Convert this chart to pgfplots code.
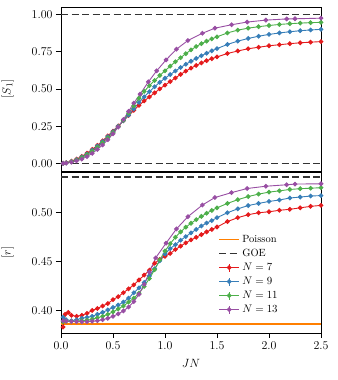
\documentclass[border=0pt]{standalone}
\usepackage{pgfplots}
\pgfplotsset{compat=1.18}
\usepackage{pgfplotstable}

\definecolor{cred}{HTML}{E41A1C}
\definecolor{cblue}{HTML}{377EB8}
\definecolor{cgreen}{HTML}{4DAF4A}
\definecolor{cpurple}{HTML}{984EA3}
\definecolor{poissoncol}{RGB}{255,127,0}

% top panel: [S_1]
\pgfplotstableread{
x y
0.02 0.002
0.05 0.006
0.10 0.016
0.15 0.030
0.20 0.048
0.25 0.070
0.30 0.095
0.35 0.122
0.40 0.152
0.45 0.185
0.50 0.218
0.55 0.252
0.60 0.287
0.65 0.322
0.70 0.357
0.75 0.390
0.80 0.420
0.85 0.447
0.90 0.474
0.95 0.501
1.00 0.526
1.05 0.550
1.10 0.574
1.15 0.598
1.20 0.620
1.25 0.640
1.30 0.658
1.35 0.675
1.40 0.690
1.45 0.703
1.50 0.715
1.60 0.738
1.70 0.755
1.80 0.770
1.90 0.780
2.00 0.790
2.10 0.797
2.20 0.804
2.30 0.810
2.40 0.814
2.50 0.818
}\sSeven
\pgfplotstableread{
x y
0.02 0.002
0.05 0.005
0.10 0.014
0.15 0.027
0.20 0.044
0.25 0.065
0.30 0.090
0.35 0.117
0.40 0.147
0.45 0.180
0.50 0.214
0.55 0.250
0.60 0.287
0.65 0.325
0.70 0.365
0.75 0.410
0.80 0.447
0.85 0.482
0.90 0.515
0.95 0.545
1.00 0.572
1.05 0.597
1.10 0.621
1.15 0.644
1.20 0.666
1.25 0.686
1.30 0.705
1.35 0.723
1.40 0.740
1.45 0.756
1.50 0.771
1.60 0.799
1.70 0.821
1.80 0.839
1.90 0.854
2.00 0.866
2.10 0.876
2.20 0.884
2.30 0.891
2.40 0.896
2.50 0.900
}\sNine
\pgfplotstableread{
x y
0.02 0.001
0.05 0.004
0.10 0.012
0.15 0.024
0.20 0.040
0.25 0.060
0.30 0.083
0.35 0.110
0.40 0.140
0.45 0.173
0.50 0.208
0.55 0.247
0.60 0.290
0.65 0.338
0.70 0.388
0.75 0.438
0.80 0.484
0.85 0.522
0.90 0.557
0.95 0.591
1.00 0.622
1.05 0.653
1.10 0.683
1.15 0.710
1.20 0.737
1.25 0.762
1.30 0.785
1.35 0.804
1.40 0.821
1.45 0.836
1.50 0.850
1.60 0.876
1.70 0.895
1.80 0.908
1.90 0.918
2.00 0.926
2.10 0.933
2.20 0.938
2.30 0.942
2.40 0.945
2.50 0.947
}\sEleven
\pgfplotstableread{
x y
0.02 0.001
0.05 0.003
0.10 0.009
0.15 0.018
0.20 0.030
0.25 0.047
0.30 0.068
0.35 0.095
0.40 0.125
0.45 0.160
0.50 0.200
0.55 0.245
0.60 0.295
0.65 0.350
0.70 0.405
0.76 0.465
0.84 0.548
0.92 0.622
1.01 0.695
1.11 0.767
1.22 0.825
1.36 0.874
1.48 0.908
1.64 0.931
1.79 0.949
1.97 0.962
2.17 0.970
2.25 0.971
2.50 0.975
}\sThirteen

% bottom panel: [r]
\pgfplotstableread{
x y
0.02 0.383
0.04 0.396
0.07 0.398
0.10 0.395
0.15 0.394
0.20 0.395
0.25 0.397
0.30 0.400
0.35 0.402
0.40 0.4045
0.45 0.407
0.50 0.411
0.55 0.414
0.60 0.418
0.65 0.422
0.70 0.426
0.75 0.431
0.80 0.436
0.85 0.441
0.90 0.448
0.95 0.452
1.00 0.455
1.05 0.458
1.10 0.462
1.15 0.4655
1.20 0.4688
1.25 0.4718
1.30 0.4745
1.35 0.4772
1.40 0.480
1.45 0.4825
1.50 0.485
1.60 0.4905
1.70 0.4945
1.80 0.4975
1.90 0.4995
2.00 0.5005
2.10 0.502
2.20 0.503
2.30 0.5045
2.40 0.506
2.50 0.507
}\rSeven
\pgfplotstableread{
x y
0.02 0.393
0.05 0.3905
0.10 0.3895
0.15 0.3905
0.20 0.392
0.25 0.393
0.30 0.394
0.35 0.396
0.40 0.398
0.45 0.4005
0.50 0.403
0.55 0.4055
0.60 0.4085
0.65 0.4125
0.70 0.418
0.75 0.423
0.80 0.4285
0.85 0.435
0.90 0.4425
0.95 0.4505
1.00 0.4575
1.05 0.463
1.10 0.467
1.15 0.4715
1.20 0.4752
1.25 0.479
1.30 0.4825
1.35 0.486
1.40 0.489
1.45 0.4915
1.50 0.4945
1.60 0.4995
1.70 0.5035
1.80 0.5068
1.90 0.509
2.00 0.511
2.10 0.5125
2.20 0.5145
2.30 0.5155
2.40 0.5165
2.50 0.517
}\rNine
\pgfplotstableread{
x y
0.02 0.3885
0.05 0.389
0.10 0.389
0.15 0.389
0.20 0.3895
0.25 0.390
0.30 0.391
0.35 0.3925
0.40 0.394
0.45 0.396
0.50 0.3985
0.55 0.4015
0.60 0.4045
0.65 0.4085
0.70 0.4125
0.75 0.4175
0.80 0.4245
0.85 0.4325
0.90 0.4415
0.95 0.4515
1.00 0.4605
1.05 0.468
1.10 0.4745
1.15 0.4800
1.20 0.4848
1.25 0.4888
1.30 0.4925
1.35 0.4958
1.40 0.499
1.45 0.5018
1.50 0.5045
1.60 0.509
1.70 0.5128
1.80 0.516
1.90 0.5185
2.00 0.5205
2.10 0.5218
2.20 0.5232
2.30 0.524
2.40 0.5245
2.50 0.525
}\rEleven
\pgfplotstableread{
x y
0.02 0.3895
0.05 0.389
0.10 0.3888
0.15 0.3886
0.20 0.3885
0.25 0.3885
0.30 0.389
0.35 0.3895
0.40 0.3905
0.45 0.392
0.50 0.394
0.55 0.3965
0.60 0.3995
0.65 0.4035
0.70 0.409
0.75 0.4165
0.80 0.4265
0.85 0.439
0.91 0.4535
1.01 0.4685
1.11 0.483
1.22 0.4955
1.36 0.5074
1.48 0.515
1.64 0.520
1.79 0.5242
1.97 0.5265
2.17 0.528
2.25 0.5287
2.50 0.529
}\rThirteen

\pgfplotsset{
  panel/.style={
    scale only axis, width=260bp,
    xmin=0, xmax=2.5,
    axis line style={line width=0.8bp},
    tick style={black, line width=0.8bp},
    tick align=outside, major tick length=5bp,
    ytick pos=left,
    tick label style={font=\fontsize{12}{14}\selectfont},
    yticklabel style={/pgf/number format/.cd, fixed, fixed zerofill, precision=2},
    xticklabel style={/pgf/number format/.cd, fixed, fixed zerofill, precision=1},
    ylabel style={at={(axis description cs:-0.205,0.5)}, anchor=center},
  },
  series/.style={color=#1, line width=0.9bp, mark=*, mark size=1.9bp, mark options={solid}},
  lineleg/.style={legend image code/.code={\draw[##1] (0bp,0bp) -- (20bp,0bp);}},
  errleg/.style={legend image code/.code={
      \draw[##1, mark=none] (0bp,0bp) -- (20bp,0bp);
      \draw[##1, mark=none] (10bp,-4bp) -- (10bp,4bp);
      \draw[mark repeat=2, mark phase=2, ##1] plot coordinates {(0bp,0bp) (10bp,0bp) (20bp,0bp)};
  }},
  goe/.style={color=black!80, line width=1.2bp, dash pattern=on 7bp off 3.5bp},
}

\newcommand{\labfont}{\fontsize{13}{15}\selectfont}

\begin{document}
\begin{tikzpicture}
\path[use as bounding box] (-61bp,-47bp) rectangle (277bp,333bp);

\begin{axis}[panel, at={(0,162bp)}, height=164bp,
    ymin=-0.05, ymax=1.05,
    ytick={0,0.25,0.5,0.75,1},
    xtick=\empty,
    ylabel={\labfont$[S_1]$},
]
\addplot[goe, forget plot] coordinates {(0,0) (2.5,0)};
\addplot[goe, forget plot] coordinates {(0,1) (2.5,1)};
\addplot[series=cred] table {\sSeven};
\addplot[series=cblue] table {\sNine};
\addplot[series=cgreen] table {\sEleven};
\addplot[series=cpurple] table {\sThirteen};
\end{axis}

\begin{axis}[panel, at={(0,0)}, height=161bp,
    ymin=0.377, ymax=0.541,
    ytick={0.40,0.45,0.50},
    xtick={0,0.5,1,1.5,2,2.5},
    xtick pos=bottom,
    xlabel={\labfont$JN$},
    xlabel style={at={(axis description cs:0.5,-0.186)}, anchor=center},
    ylabel={\labfont$[r]$},
    legend cell align=left,
    legend style={draw=none, fill=none, at={(axis description cs:0.605,0.625)},
      anchor=north west, font=\fontsize{10.5}{12}\selectfont,
      row sep=0bp, inner sep=0bp,
      nodes={inner sep=2.5bp, text height=7bp, text depth=2bp}},
]
\addplot[color=poissoncol, line width=1.3bp, lineleg] coordinates {(0,0.3863) (2.5,0.3863)};
\addplot[goe, lineleg] coordinates {(0,0.5359) (2.5,0.5359)};
\addplot[series=cred, errleg] table {\rSeven};
\addplot[series=cblue, errleg] table {\rNine};
\addplot[series=cgreen, errleg] table {\rEleven};
\addplot[series=cpurple, errleg] table {\rThirteen};
\legend{Poisson, GOE, $N=7$, $N=9$, $N=11$, $N=13$}
\end{axis}
\end{tikzpicture}
\end{document}
